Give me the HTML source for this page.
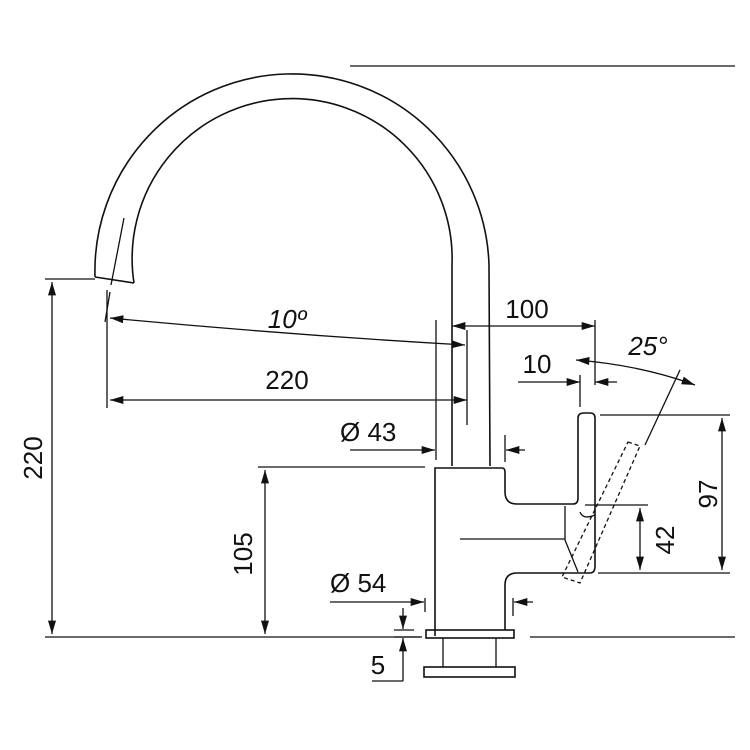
<!DOCTYPE html>
<html><head><meta charset="utf-8"><style>
html,body{margin:0;padding:0;background:#fff;}
svg{display:block;}
text{font-family:"Liberation Sans",sans-serif;fill:#111;}
</style></head><body>
<svg width="750" height="750" viewBox="0 0 750 750" xmlns="http://www.w3.org/2000/svg">
<defs>
<marker id="a" viewBox="0 0 10 6" refX="10" refY="3" markerWidth="18" markerHeight="8" markerUnits="userSpaceOnUse" orient="auto-start-reverse"><path d="M0,0 L10,3 L0,6 z" fill="#111"/></marker>
</defs>
<g fill="none" stroke="#111" stroke-width="1.3">
<!-- spout -->
<path d="M95,277 A197,197 0 1 1 489,265 L490,466" stroke-width="1.6"/>
<path d="M134,283 A160,160 0 1 1 452,265 L452,466" stroke-width="1.6"/>
<path d="M95,277 L134,283" stroke-width="1.6"/>
<path d="M124,218 L111,285 M110,292 L105,322"/>
<!-- reference lines -->
<path d="M350,66 H735"/>
<path d="M45,279 H95"/>
<path d="M45,637 H422 M530,637 H735"/>
<!-- body -->
<path d="M435,636 V468 H502 Q505,468 505,472 V492 Q505,504 517,504 H573 Q578,504 578,498 V418 Q578,413 584,413 H590 Q595,413 595,418 V566 Q595,573 590,573 H517 Q505,573 505,585 V630" stroke-width="1.6"/>
<rect x="426" y="630" width="88" height="8" stroke-width="1.6"/>
<path d="M443,638 V667 M496,638 V667"/>
<rect x="424" y="667" width="91" height="10" stroke-width="1.6"/>
<!-- lever centre line -->
<path d="M460,539 H565"/>
<path d="M565,506 V540 L578,572"/>
<path d="M580,512 Q583,520 595,515"/>
<!-- dashed handle -->
<g stroke-dasharray="4,3">
<path d="M628,442 L640,446 L580,583 L562,577 z"/>
</g>
<path d="M680,370 L645,445"/>
<!-- dims: 220 vertical -->
<path d="M52,282 V634" marker-start="url(#a)" marker-end="url(#a)"/>
<!-- 105 -->
<path d="M258,467 H425"/>
<path d="M265,470 V634" marker-start="url(#a)" marker-end="url(#a)"/>
<!-- 10 deg -->
<path d="M110,318 Q290,335 465,345" marker-start="url(#a)" marker-end="url(#a)"/>
<!-- 220 horizontal -->
<path d="M107,290 V408"/>
<path d="M110,400 H467" marker-start="url(#a)" marker-end="url(#a)"/>
<path d="M467,330 V425"/>
<!-- 100 -->
<path d="M436,320 V460 M595,320 V385"/>
<path d="M452,326 H595" marker-start="url(#a)" marker-end="url(#a)"/>
<!-- 10 -->
<path d="M580,375 V407"/>
<path d="M518,382 H580" marker-end="url(#a)"/>
<path d="M617,382 H595" marker-end="url(#a)"/>
<!-- 25 deg -->
<path d="M576,360 Q640,365 695,385" marker-start="url(#a)" marker-end="url(#a)"/>
<!-- Ø43 -->
<path d="M505,435 V462"/>
<path d="M350,450 H435" marker-end="url(#a)"/>
<path d="M525,450 H506" marker-end="url(#a)"/>
<!-- 97 -->
<path d="M600,415 H730 M598,573 H730"/>
<path d="M722,418 V570" marker-start="url(#a)" marker-end="url(#a)"/>
<!-- 42 -->
<path d="M585,505 H648"/>
<path d="M640,508 V570" marker-start="url(#a)" marker-end="url(#a)"/>
<!-- Ø54 -->
<path d="M425,598 V612 M513,598 V616"/>
<path d="M330,602 H424" marker-end="url(#a)"/>
<path d="M533,602 H514" marker-end="url(#a)"/>
<!-- 5 -->
<path d="M394,630 H414 M394,637 H420"/>
<path d="M403,608 V629" marker-end="url(#a)"/>
<path d="M403,681 V638" marker-end="url(#a)"/>
<path d="M372,681 H403"/>
</g>
<g font-size="26">
<text x="35" y="458" transform="rotate(-90 35 458)" text-anchor="middle" dominant-baseline="middle">220</text>
<text x="245" y="554" transform="rotate(-90 245 554)" text-anchor="middle" dominant-baseline="middle">105</text>
<text x="287" y="328" text-anchor="middle" font-style="italic">10º</text>
<text x="287" y="389" text-anchor="middle">220</text>
<text x="527" y="318" text-anchor="middle">100</text>
<text x="537" y="373" text-anchor="middle">10</text>
<text x="648" y="355" text-anchor="middle" font-style="italic">25°</text>
<text x="340" y="441">Ø 43</text>
<text x="330" y="592">Ø 54</text>
<text x="378" y="674" text-anchor="middle">5</text>
<text x="710" y="494" transform="rotate(-90 710 494)" text-anchor="middle" dominant-baseline="middle">97</text>
<text x="667" y="540" transform="rotate(-90 667 540)" text-anchor="middle" dominant-baseline="middle">42</text>
</g>
</svg>
</body></html>
